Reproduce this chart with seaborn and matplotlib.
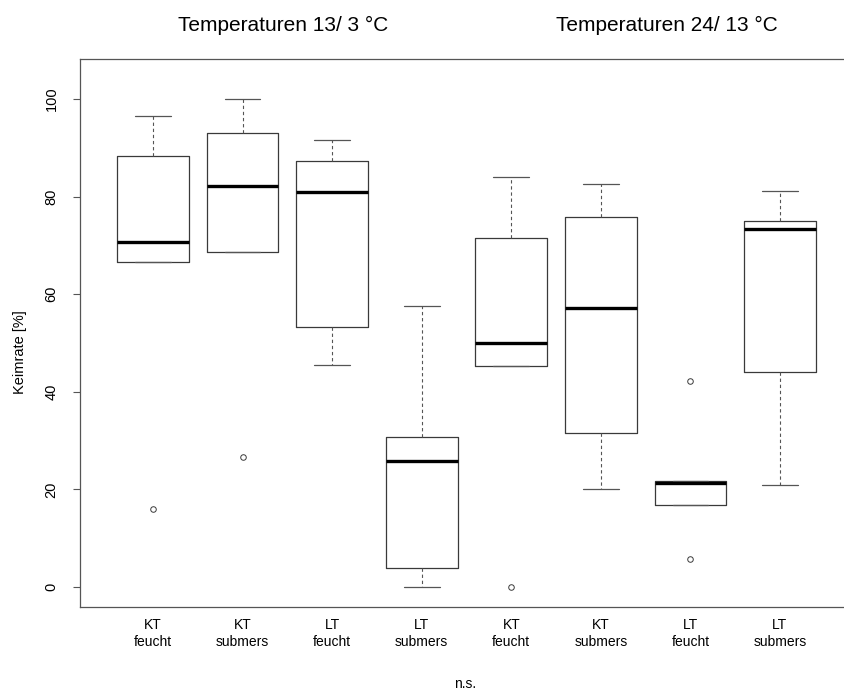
import pandas as pd
import seaborn as sns
import matplotlib.pyplot as plt

# Keimrate [%] per Gruppe (je 5 Werte)
kt_feucht_13 = [15.9, 66.7, 70.8, 88.4, 96.6]
kt_submers_13 = [26.6, 68.6, 82.2, 93.0, 100.0]
lt_feucht_13 = [45.5, 53.3, 81.0, 87.4, 91.6]
lt_submers_13 = [0.0, 3.9, 25.8, 30.7, 57.6]
kt_feucht_24 = [0.0, 45.3, 50.0, 71.5, 84.0]
kt_submers_24 = [20.0, 31.5, 57.2, 75.8, 82.6]
lt_feucht_24 = [5.8, 16.7, 21.4, 21.7, 42.2]
lt_submers_24 = [21.0, 44.0, 73.3, 74.9, 81.1]

gruppen = ["KT feucht 13", "KT submers 13", "LT feucht 13", "LT submers 13",
           "KT feucht 24", "KT submers 24", "LT feucht 24", "LT submers 24"]
werte = [kt_feucht_13, kt_submers_13, lt_feucht_13, lt_submers_13,
         kt_feucht_24, kt_submers_24, lt_feucht_24, lt_submers_24]
tick_labels = ["KT\nfeucht", "KT\nsubmers", "LT\nfeucht", "LT\nsubmers",
               "KT\nfeucht", "KT\nsubmers", "LT\nfeucht", "LT\nsubmers"]
titel = ["Temperaturen 13/ 3 °C", "Temperaturen 24/ 13 °C"]

df = pd.DataFrame({
    "gruppe": [g for g, w in zip(gruppen, werte) for _ in w],
    "keimrate": [v for w in werte for v in w],
})

sns.set_style("ticks")
plt.rcParams["font.family"] = ["Liberation Sans", "DejaVu Sans"]
plt.rcParams["text.color"] = "black"
plt.rcParams["axes.labelcolor"] = "black"
plt.rcParams["xtick.labelcolor"] = "black"
plt.rcParams["ytick.labelcolor"] = "black"

fig = plt.figure(figsize=(8.45, 6.9), dpi=100)
ax = fig.add_axes([0.0941, 0.1199, 0.9159, 0.7943])

line_col = "#3a3a3a"
sns.boxplot(data=df, x="gruppe", y="keimrate", order=gruppen, width=0.8,
            fill=False, whis=1.5, ax=ax,
            boxprops=dict(color=line_col, linewidth=0.9),
            medianprops=dict(color="black", linewidth=2.4),
            whiskerprops=dict(color="#555555", linewidth=0.8, linestyle=(0, (3, 2.5))),
            capprops=dict(color="#555555", linewidth=0.9),
            flierprops=dict(marker="o", markerfacecolor="none",
                            markeredgecolor=line_col, markersize=4,
                            markeredgewidth=0.7))

ax.set_xlim(-0.82, 7.82)
ax.set_ylim(-4.16, 108.16)

for s in ax.spines.values():
    s.set_visible(True)
    s.set_color("#555555")
    s.set_linewidth(0.9)
# rechter Rand liegt ausserhalb des Bildes
ax.spines["right"].set_visible(False)

ax.set_xticks(range(len(gruppen)))
ax.set_xticklabels(tick_labels, fontsize=10, linespacing=1.2)
ax.tick_params(axis="x", length=0, pad=8)

ax.set_yticks([0, 20, 40, 60, 80, 100])
ax.set_yticklabels(["0", "20", "40", "60", "80", "100"], rotation=90,
                   va="center", fontsize=10.5)
ax.tick_params(axis="y", length=5, width=0.8, color="#555555", pad=10)

ax.set_ylabel("Keimrate [%]", fontsize=10.5)
ax.yaxis.set_label_coords(-0.068, 0.466)
ax.set_xlabel("n.s.", fontsize=10)
ax.xaxis.set_label_coords(0.498, -0.127)

fig.text(283.5 / 845, 1 - 25 / 690, titel[0], ha="center", va="center", fontsize=15)
fig.text(666.5 / 845, 1 - 25 / 690, titel[1], ha="center", va="center", fontsize=15)

fig.savefig("out.png", dpi=100)
